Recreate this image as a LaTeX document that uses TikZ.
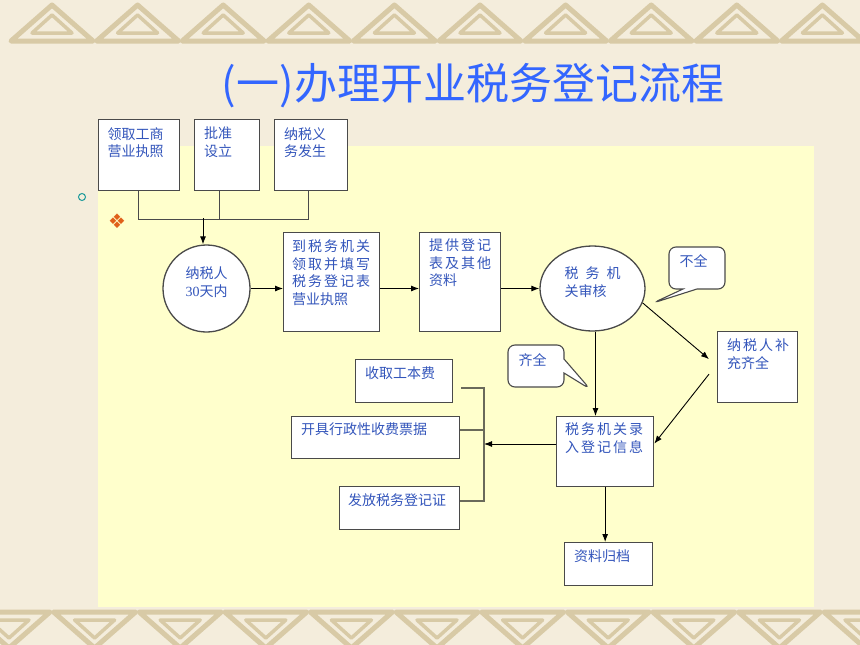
\documentclass[tikz,border=0pt]{standalone}
\usepackage{fontspec}
\setmainfont{Liberation Serif}
\newfontfamily\cjk{Noto Sans CJK SC}
\newfontfamily\cjkw{Noto Sans CJK SC}[LetterSpace=14]
\newfontfamily\symb{DejaVu Sans}
\usetikzlibrary{arrows.meta,shapes.geometric,shapes.callouts}
\definecolor{bgcream}{HTML}{F4EDDC}
\definecolor{bandtan}{HTML}{D8CAA6}
\definecolor{panel}{HTML}{FFFFCC}
\definecolor{txtblue}{HTML}{3355BB}
\definecolor{titleblue}{HTML}{3366FF}
\definecolor{boxline}{HTML}{4A4A4A}
\definecolor{barline}{HTML}{6A6A5A}
\definecolor{dotteal}{HTML}{1A9A9A}
\definecolor{diaorange}{HTML}{E0601A}
\tikzset{
  box/.style={draw=boxline, line width=1.3pt, fill=white, anchor=north west, inner sep=0pt},
  txt/.style={font=\cjk\fontsize{14}{17.5}\selectfont, text=txtblue, align=left, inner sep=0pt, anchor=north west},
  wtxt/.style={txt, font=\cjkw\fontsize{14}{17.5}\selectfont},
  arr/.style={-{Latex[length=8pt,width=6pt]}, line width=0.9pt},
  bubble/.style={rectangle callout, draw=boxline, line width=1.1pt, fill=white, rounded corners=7pt,
    minimum width=56pt, minimum height=42pt, callout pointer width=14pt},
}
\begin{document}
\begin{tikzpicture}[x=1pt, y=-1pt]
    \useasboundingbox (0,0) rectangle (860,645);
    % 背景
    \fill[bgcream] (0,0) rectangle (860,645);
    \foreach \i in {0,...,10} {
      \draw[bandtan, line width=5pt, line join=round] (52+85.6*\i-41,41) -- (52+85.6*\i,5) -- (52+85.6*\i+41,41) -- cycle;
      \draw[bandtan, line width=3.5pt, line join=round] (52+85.6*\i-20,33) -- (52+85.6*\i,15) -- (52+85.6*\i+20,33) -- cycle;
      \draw[bandtan, line width=5pt, line join=round] (9+85.6*\i-41,612) -- (9+85.6*\i,648) -- (9+85.6*\i+41,612) -- cycle;
      \draw[bandtan, line width=3.5pt, line join=round] (9+85.6*\i-20,620) -- (9+85.6*\i,638) -- (9+85.6*\i+20,620) -- cycle;
    }
    \fill[panel] (98,146) rectangle (814,607);

    % 标题
    \node[font=\cjk\fontsize{43}{43}\selectfont, text=titleblue, inner sep=0pt] (title) at (473,86) {(一)办理开业税务登记流程};
    \node[circle, draw=dotteal, line width=1pt, minimum size=7pt, inner sep=0pt] (dot) at (82,197) {};
    \node[font=\symb\fontsize{20}{20}\selectfont, text=diaorange, inner sep=0pt] (dia) at (117,221) {❖};

    % 节点
    \node[box, minimum width=81pt, minimum height=71pt] (b1) at (97.5,119) {};
    \node[box, minimum width=65pt, minimum height=71pt] (b2) at (194,119) {};
    \node[box, minimum width=73pt, minimum height=71pt] (b3) at (274,119) {};
    \node[circle, draw=boxline, line width=1.3pt, fill=white, minimum size=87pt] (c1) at (206.5,288.5) {};
    \node[box, minimum width=96pt, minimum height=99pt] (b4) at (283,232) {};
    \node[box, minimum width=81pt, minimum height=99pt] (b5) at (419,232) {};
    \node[ellipse, draw=boxline, line width=1.3pt, fill=white, minimum width=105pt, minimum height=85pt] (e1) at (592.5,288.5) {};
    \node[box, minimum width=80pt, minimum height=71pt] (b6) at (717,331) {};
    \node[box, minimum width=97pt, minimum height=70pt] (b7) at (556,416) {};
    \node[box, minimum width=97pt, minimum height=43pt] (b8) at (355,359) {};
    \node[box, minimum width=168pt, minimum height=42pt] (b9) at (291,416) {};
    \node[box, minimum width=120pt, minimum height=43pt] (b10) at (339,486) {};
    \node[box, minimum width=88pt, minimum height=43pt] (b11) at (564,542) {};
    \node[bubble, callout absolute pointer={(653,303)}] (n1) at (697,268) {};
    \node[bubble, callout absolute pointer={(590,389)}] (n2) at (536,366) {};

    % 文字
    \node[txt] (t1) at ([shift={(10,8)}]b1.north west) {领取工商\\营业执照};
    \node[txt] (t2) at ([shift={(10,8)}]b2.north west) {批准\\设立};
    \node[txt] (t3) at ([shift={(10,8)}]b3.north west) {纳税义\\务发生};
    \node[txt, anchor=north] (tc1) at ([shift={(0,-21.5)}]c1.center) {纳税人\\{\rmfamily 30}天内};
    \node[wtxt] (t4) at ([shift={(9,8)}]b4.north west) {到税务机关\\领取并填写\\税务登记表\\{\cjk 营业执照}};
    \node[wtxt] (t5) at ([shift={(10,7)}]b5.north west) {提供登记\\表及其他\\{\cjk 资料}};
    \node[txt, anchor=north] (te1) at ([shift={(0,-21.5)}]e1.center) {税\kern7pt 务\kern7pt 机\\关审核};
    \node[wtxt] (t6) at ([shift={(10,8)}]b6.north west) {纳税人补\\{\cjk 充齐全}};
    \node[wtxt] (t7) at ([shift={(9,7)}]b7.north west) {税务机关录\\入登记信息};
    \node[txt] (t8) at ([shift={(10,8)}]b8.north west) {收取工本费};
    \node[txt] (t9) at ([shift={(10,7)}]b9.north west) {开具行政性收费票据};
    \node[txt] (t10) at ([shift={(9,7)}]b10.north west) {发放税务登记证};
    \node[txt] (t11) at ([shift={(10,8)}]b11.north west) {资料归档};
    \node[txt] (tn1) at ([shift={(11,8)}]n1.north west) {不全};
    \node[txt] (tn2) at ([shift={(11,9)}]n2.north west) {齐全};

    % 连线
    \coordinate (m) at (203,218);
    \coordinate (k) at (484,444);
    \coordinate (kt) at (484,388);
    \coordinate (km) at (484,430);
    \coordinate (kb) at (484,501);
    \draw[draw=boxline, line width=1.2pt] (b1.south) -- ++(0,28) -| ([shift={(-3,0)}]b3.south);
    \draw[draw=boxline, line width=1.2pt] ([shift={(-8,0)}]b2.south) -- ++(0,28);
    \draw[arr] (m) -- (m |- c1.north);
    \draw[arr] (c1.east) -- (c1.east -| b4.west);
    \draw[arr] (b4.east |- c1.east) -- (b5.west |- c1.east);
    \draw[arr] (b5.east |- e1.west) -- (e1.west);
    \draw[arr] (e1.-16) -- ([shift={(-8,-8)}]b6.west);
    \draw[arr] ([shift={(-8,7)}]b6.west) -- ([shift={(0,-8)}]b7.east);
    \draw[arr] ([shift={(3,0)}]e1.south) -- ([shift={(3,0)}]e1.south |- b7.north);
    \draw[arr] (b7.west |- k) -- (k);
    \draw[arr] (b7.south) -- (b7.south |- b11.north);
    \draw[draw=barline, line width=1.3pt] ([shift={(8,0)}]b8.east |- kt) -- (kt) -- (kb) -- (b10.east |- kb);
    \draw[draw=barline, line width=1.3pt] (b9.east |- km) -- (km);
\end{tikzpicture}
\end{document}
